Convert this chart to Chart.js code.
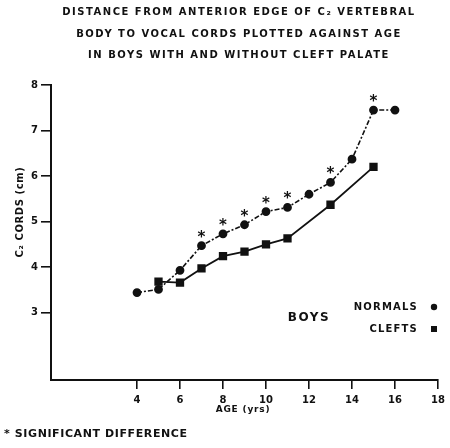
<!DOCTYPE html>
<html>
<head>
<meta charset="utf-8">
<script src="https://cdn.jsdelivr.net/npm/chart.js"></script>
<style>
  html, body { margin: 0; padding: 0; background: #fff; }
  canvas { display: block; }
</style>
</head>
<body>
<canvas id="c2Chart" width="450" height="448"></canvas>
<script>
// ages in years, distances in cm
const normalAges = [4, 5, 6, 7, 8, 9, 10, 11, 12, 13, 14, 15, 16];
const normalValues = [3.44, 3.51, 3.93, 4.47, 4.73, 4.93, 5.22, 5.31, 5.60, 5.86, 6.37, 7.45, 7.45];
const cleftAges = [5, 6, 7, 8, 9, 10, 11, 13, 15];
const cleftValues = [3.68, 3.66, 3.97, 4.24, 4.34, 4.50, 4.63, 5.37, 6.20];
const significantAges = [7, 8, 9, 10, 11, 13, 15];
const xTicks = [4, 6, 8, 10, 12, 14, 16, 18];
const yTicks = [3, 4, 5, 6, 7, 8];
const titleLines = [
  'DISTANCE FROM ANTERIOR EDGE OF C\u2082 VERTEBRAL',
  'BODY TO VOCAL CORDS PLOTTED AGAINST AGE',
  'IN BOYS WITH AND WITHOUT CLEFT PALATE'
];

const INK = '#111';
const FONT = '"DejaVu Sans", sans-serif';

const toPoints = (xs, ys) => xs.map((x, i) => ({ x, y: ys[i] }));

// text that sits outside the plot: title, legend, asterisks, notes
const annotations = {
  id: 'annotations',
  afterDatasetsDraw(chart) {
    const { ctx, scales: { x, y } } = chart;
    ctx.save();
    ctx.fillStyle = INK;

    // title
    ctx.font = 'bold 10px ' + FONT;
    ctx.letterSpacing = '1.5px';
    ctx.textAlign = 'center';
    ctx.textBaseline = 'middle';
    titleLines.forEach((line, i) => ctx.fillText(line, 239, 12.5 + i * 21.5));

    // significance marks above the normals
    ctx.font = 'bold 15px ' + FONT;
    ctx.letterSpacing = '0px';
    ctx.textBaseline = 'alphabetic';
    significantAges.forEach(age => {
      const i = normalAges.indexOf(age);
      ctx.fillText('*', x.getPixelForValue(age), y.getPixelForValue(normalValues[i]) - 4);
    });

    // x axis title
    ctx.font = 'bold 9px ' + FONT;
    ctx.letterSpacing = '0.8px';
    ctx.textBaseline = 'middle';
    ctx.fillText('AGE (yrs)', 243, 410);

    // y axis title
    ctx.save();
    ctx.translate(20, 212);
    ctx.rotate(-Math.PI / 2);
    ctx.font = 'bold 10px ' + FONT;
    ctx.letterSpacing = '0.6px';
    ctx.textBaseline = 'middle';
    ctx.fillText('C\u2082 CORDS (cm)', 0, 0);
    ctx.restore();

    // legend
    ctx.font = 'bold 12px ' + FONT;
    ctx.letterSpacing = '1.5px';
    ctx.textBaseline = 'middle';
    ctx.fillText('BOYS', 309, 318);
    ctx.font = 'bold 10px ' + FONT;
    ctx.letterSpacing = '1.2px';
    ctx.textAlign = 'right';
    ctx.fillText('NORMALS', 418, 307);
    ctx.fillText('CLEFTS', 418, 329);
    ctx.beginPath();
    ctx.arc(434, 307, 3.2, 0, Math.PI * 2);
    ctx.fill();
    ctx.fillRect(431, 326, 6, 6);

    // footnote
    ctx.font = 'bold 11px ' + FONT;
    ctx.letterSpacing = '0.6px';
    ctx.textAlign = 'left';
    ctx.fillText('* SIGNIFICANT DIFFERENCE', 4, 434);
    ctx.restore();
  }
};

new Chart(document.getElementById('c2Chart'), {
  type: 'scatter',
  data: {
    datasets: [
      {
        label: 'NORMALS',
        data: toPoints(normalAges, normalValues),
        showLine: true,
        borderColor: INK,
        backgroundColor: INK,
        borderWidth: 1.6,
        borderDash: [5, 2, 2, 2],
        pointStyle: 'circle',
        pointRadius: 3.6,
        pointHoverRadius: 3.6
      },
      {
        label: 'CLEFTS',
        data: toPoints(cleftAges, cleftValues),
        showLine: true,
        borderColor: INK,
        backgroundColor: INK,
        borderWidth: 1.8,
        pointStyle: 'rect',
        pointRadius: 4.6,
        pointHoverRadius: 4.6
      }
    ]
  },
  options: {
    responsive: false,
    animation: false,
    layout: { padding: { top: 85, left: 0, right: 12, bottom: 0 } },
    plugins: {
      legend: { display: false },
      title: { display: false },
      tooltip: { enabled: false }
    },
    scales: {
      x: {
        type: 'linear',
        min: 0,
        max: 18,
        afterBuildTicks: s => { s.ticks = xTicks.map(v => ({ value: v })); },
        afterFit: s => { s.height = 68; },
        border: { color: INK, width: 2 },
        grid: { drawOnChartArea: false, color: INK, lineWidth: 1.6, tickLength: 9 },
        ticks: { color: INK, padding: 5, font: { family: FONT, size: 10, weight: 'bold' } }
      },
      y: {
        min: 1.52,
        max: 8,
        afterBuildTicks: s => { s.ticks = yTicks.map(v => ({ value: v })); },
        afterFit: s => { s.width = 51; },
        border: { color: INK, width: 2 },
        grid: { drawOnChartArea: false, color: INK, lineWidth: 1.6, tickLength: 10 },
        ticks: { color: INK, padding: 3, font: { family: FONT, size: 10, weight: 'bold' } }
      }
    }
  },
  plugins: [annotations]
});
</script>
</body>
</html>
